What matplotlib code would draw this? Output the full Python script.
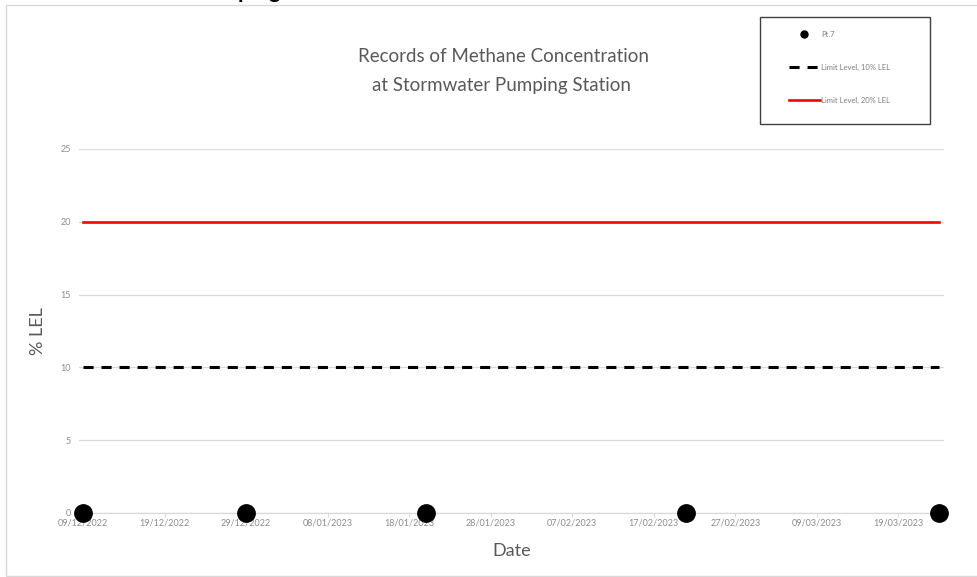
import matplotlib
matplotlib.use("Agg")
import matplotlib.pyplot as plt
import matplotlib.dates as mdates
from matplotlib.lines import Line2D
from matplotlib.patches import Rectangle
import pandas as pd

plt.rcParams['font.family'] = ['Lato', 'DejaVu Sans']

# data
dates = pd.to_datetime(["2022-12-09", "2022-12-29", "2023-01-20",
                        "2023-02-21", "2023-03-24"])
pt7 = [0, 0, 0, 0, 0]
limit_10 = [10, 10, 10, 10, 10]
limit_20 = [20, 20, 20, 20, 20]
tick_dates = pd.date_range("2022-12-09", "2023-03-19", freq="10D")

W, H = 977, 577
fig = plt.figure(figsize=(W / 100, H / 100), dpi=100)

# chart area border (screenshot of a document)
fig.patches.append(Rectangle((6 / W, 1 / H), 1.0, 1 - 6 / H, transform=fig.transFigure,
                             fill=False, edgecolor="#d9d9d9", lw=1.0))
# cut-off heading of the page above the chart
fig.text(193 / W, 1.0 + 2.5 / H, "Pumping Station", fontsize=16, weight="bold",
         color="black", va="baseline", ha="left")

ax = fig.add_axes([79 / W, 1 - 513 / H, (944 - 79) / W, (513 - 149) / H])

ax.plot(dates, limit_20, color="#ff0000", lw=1.9, zorder=3)
ax.plot(dates, limit_10, color="black", lw=2.2, dashes=(3.3, 2.6), zorder=3)
ax.plot(dates, pt7, ls="none", marker="o", ms=12.5, color="black", zorder=5, clip_on=False)

ax.set_ylim(0, 25)
ax.set_yticks([0, 5, 10, 15, 20, 25])
ax.set_xlim(dates[0] - pd.Timedelta(hours=12), dates[-1] + pd.Timedelta(hours=14))
ax.set_xticks(tick_dates)
ax.xaxis.set_major_formatter(mdates.DateFormatter("%d/%m/%Y"))

for s in ["top", "right", "left"]:
    ax.spines[s].set_visible(False)
ax.spines["bottom"].set_color("#d9d9d9")
ax.spines["bottom"].set_linewidth(0.9)
ax.yaxis.grid(True, color="#d9d9d9", lw=0.9)
ax.set_axisbelow(True)
ax.tick_params(axis="y", length=0, labelsize=6.5, labelcolor="#8c8c8c", pad=6)
ax.tick_params(axis="x", length=3, color="#d9d9d9", labelsize=6.5, labelcolor="#8c8c8c", pad=1)

ax.set_ylabel("% LEL", fontsize=13, color="#595959", labelpad=10)
ax.set_xlabel("Date", fontsize=13, color="#595959", labelpad=11)

fig.text(504 / W, 1 - 57 / H, "Records of Methane Concentration", fontsize=13.5,
         color="#595959", ha="center", va="center")
fig.text(502 / W, 1 - 86 / H, "at Stormwater Pumping Station", fontsize=13.5,
         color="#595959", ha="center", va="center")

# legend box
fig.patches.append(Rectangle((760 / W, 1 - 124 / H), 170 / W, 107 / H, transform=fig.transFigure,
                             fill=False, edgecolor="#404040", lw=1.0))
handles = [
    Line2D([], [], ls="none", marker="o", ms=5, color="black"),
    Line2D([], [], color="black", lw=2.2, dashes=(3.3, 2.6)),
    Line2D([], [], color="#ff0000", lw=1.9),
]
labels = ["Pt.7", "Limit Level, 10% LEL", "Limit Level, 20% LEL"]
fig.legend(handles, labels, loc="upper left", bbox_to_anchor=(789 / W, 1 - 31 / H),
           frameon=False, fontsize=5.5, labelcolor="#7f7f7f", handlelength=4.0,
           handletextpad=0.2, labelspacing=3.4, borderpad=0, borderaxespad=0)

fig.savefig("out.png", dpi=100)
